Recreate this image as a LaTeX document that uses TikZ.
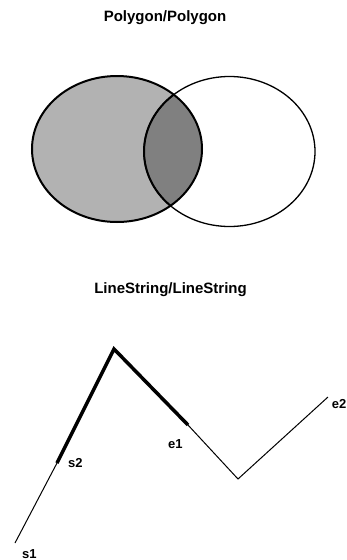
\documentclass[tikz,border=0pt]{standalone}
\usepackage{fontspec}
\setmainfont{Liberation Sans}
\begin{document}
\begin{tikzpicture}[x=1pt,y=-1pt,
  title/.style={font=\bfseries\fontsize{15}{17}\selectfont, inner sep=0pt, anchor=base},
  lbl/.style={font=\bfseries\fontsize{13}{15}\selectfont, inner sep=0pt, anchor=base west},
  thinline/.style={line width=1pt},
  thickline/.style={line width=3.5pt, line cap=butt, line join=miter}]
\useasboundingbox (0,0) rectangle (347,560);
\fill[white] (0,0) rectangle (347,560);
% Polygon/Polygon
\node[title] (t1) at (165,21.7) {Polygon/Polygon};
\fill[black!30] (117,149) ellipse [x radius=85, y radius=73];
\begin{scope}
  \clip (117,149) ellipse [x radius=85, y radius=73];
  \fill[black!50] (229.5,151.5) ellipse [x radius=85.5, y radius=75];
  \draw[line width=2pt] (229.5,151.5) ellipse [x radius=85.5, y radius=75];
\end{scope}
\draw[line width=1.3pt] (229.5,151.5) ellipse [x radius=85.5, y radius=75];
\draw[line width=2pt] (117,149) ellipse [x radius=85, y radius=73];
% LineString/LineString
\node[title] (t2) at (170.5,293) {LineString/LineString};
\coordinate (S1) at (15,543);
\coordinate (S2) at (57,463);
\coordinate (A) at (114,349);
\coordinate (E1) at (188,425);
\coordinate (V) at (238,479);
\coordinate (E2) at (328,397);
\draw[thinline] (S1) -- (S2) -- (A) -- (E1) -- (V) -- (E2);
\draw[thickline] (S2) -- (A) -- (E1);
\node[lbl] (ls1) at (22,558) {s1};
\node[lbl] (ls2) at (68,467) {s2};
\node[lbl] (le1) at (168,448) {e1};
\node[lbl, anchor=base east] (le2) at (346.5,408) {e2};
\end{tikzpicture}
\end{document}
